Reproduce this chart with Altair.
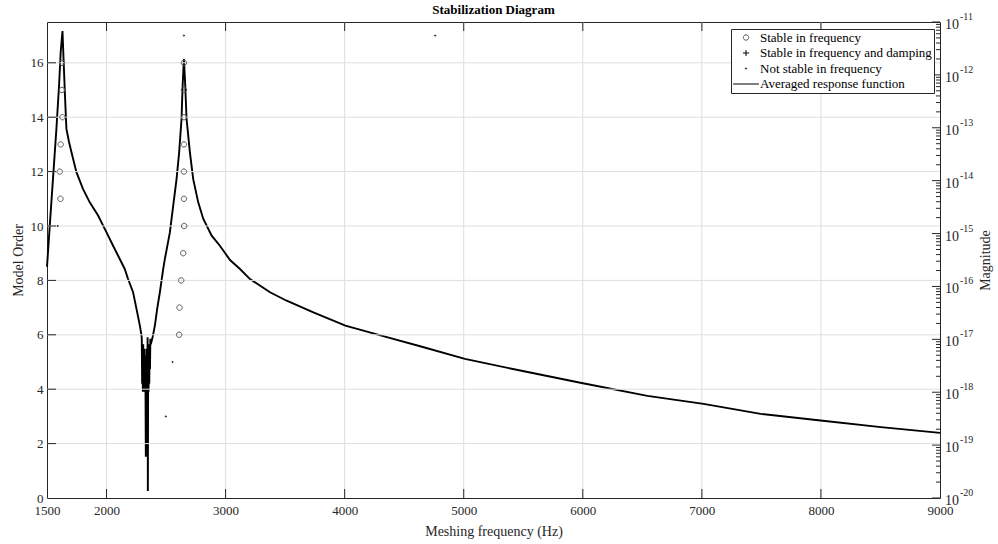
import altair as alt
import pandas as pd

# ---------------- data ----------------
freq_hz = [1500, 1523, 1550, 1579, 1601, 1615, 1630, 1640, 1651, 1663, 1685, 1705, 1747,
           1803, 1859, 1929, 2000, 2055, 2111, 2153, 2181, 2223, 2252, 2280, 2294,
           2296, 2299, 2302, 2305, 2308, 2311, 2314, 2317, 2320, 2323, 2326, 2330, 2333,
           2336, 2339, 2342, 2345, 2347, 2350, 2353, 2356, 2359, 2362, 2365, 2368, 2372,
           2389, 2406, 2425, 2448, 2476, 2490, 2532, 2560, 2588, 2610, 2630, 2639, 2650,
           2661, 2672, 2700, 2728, 2770, 2812, 2883, 2952, 3037, 3121, 3205, 3373, 3513,
           3737, 4006, 4354, 4634, 5010, 5475, 5980, 6543, 7014, 7494, 8016, 8504, 9000]
magnitude = [2.34e-16, 1.38e-15, 1.07e-14, 9.55e-14, 6.17e-13, 2.69e-12, 6.76e-12, 1.74e-12,
             4.07e-13, 9.55e-14, 5.37e-14, 3.47e-14, 1.45e-14, 6.92e-15, 3.89e-15, 2.19e-15,
             1.05e-15, 5.89e-16, 3.31e-16, 2.14e-16, 1.38e-16, 7.76e-17, 3.72e-17, 1.82e-17,
             1.17e-17,
             1.02e-17, 1.45e-18, 8.1e-18, 1.02e-18, 8.1e-18, 1.02e-18, 6.6e-18, 1.02e-18,
             6.6e-18, 1.02e-18, 5.0e-18, 6.03e-20, 5.0e-18, 1.02e-18, 6.6e-18, 1.02e-18,
             1.1e-17, 1.35e-20, 6.6e-18, 1.02e-18, 8.1e-18, 1.45e-18, 8.1e-18, 2.75e-18,
             1.02e-17, 8.1e-18,
             1.15e-17, 1.82e-17, 3.72e-17, 7.76e-17, 2.14e-16, 3.31e-16, 1.05e-15, 3.39e-15,
             1.07e-14, 3.47e-14, 1.48e-13, 6.31e-13, 2.0e-12, 6.31e-13, 1.48e-13, 3.47e-14,
             1.07e-14, 3.89e-15, 1.91e-15, 9.12e-16, 5.89e-16, 3.16e-16, 2.14e-16, 1.38e-16,
             7.76e-17, 5.37e-17, 3.24e-17, 1.82e-17, 1.10e-17, 7.41e-18, 4.27e-18, 2.57e-18,
             1.51e-18, 8.51e-19, 6.03e-19, 3.89e-19, 2.88e-19, 2.19e-19, 1.70e-19]

stable_freq_hz = [1626, 1626, 1630, 1615, 1607, 1613,
                  2650, 2650, 2650, 2650, 2650, 2650, 2652, 2644, 2627, 2613, 2610]
stable_order = [16, 15, 14, 13, 12, 11,
                16, 15, 14, 13, 12, 11, 10, 9, 8, 7, 6]

unstable_freq_hz = [2650, 4760, 2555, 2498, 1590]
unstable_order = [17, 17, 5, 3, 10]

x_tick_values = [1500, 2000, 3000, 4000, 5000, 6000, 7000, 8000, 9000]
x_inner_ticks = [2000, 3000, 4000, 5000, 6000, 7000, 8000]
y_tick_values = [0, 2, 4, 6, 8, 10, 12, 14, 16]
y_inner_ticks = [2, 4, 6, 8, 10, 12, 14, 16]
decades = [-20, -19, -18, -17, -16, -15, -14, -13, -12, -11]

legend_labels = ["Stable in frequency", "Stable in frequency and damping",
                 "Not stable in frequency", "Averaged response function"]

# ---------------- styling ----------------
W, H = 893, 476
FONT = "Liberation Serif"
AX = "#262626"
GRID = "#dedede"

SHAPES = [
    "M-0.9,0A0.9,0.9,0,1,0,0.9,0A0.9,0.9,0,1,0,-0.9,0Z",   # open circle
    "M-1,0H1M0,-1V1",                                     # plus
    "M-0.2,0A0.2,0.2,0,1,0,0.2,0A0.2,0.2,0,1,0,-0.2,0Z",  # dot
    "M-4.3,0H4.3",                                        # line
]
COLORS = ["#5a5a5a", "#000000", "#000000", "#000000"]

xscale = alt.Scale(domain=[1500, 9000], nice=False, zero=False)
lscale = alt.Scale(domain=[0, 17.5], nice=False, zero=False)
rscale = alt.Scale(type="log", domain=[1e-20, 1e-11], nice=False)

XAX = alt.Axis(
    values=x_tick_values, ticks=False, domain=False, grid=False, format="d",
    labelFlush=False, labelOverlap=False, labelFont=FONT, labelFontSize=13,
    labelColor=AX, labelPadding=6,
    title="Meshing frequency (Hz)", titleFont=FONT, titleFontSize=14,
    titleFontWeight="normal", titleColor=AX, titleX=W / 2, titleY=33,
    titleBaseline="middle", titleAlign="center")
LAX = alt.Axis(
    values=y_tick_values, ticks=False, domain=False, grid=False,
    labelFont=FONT, labelFontSize=13, labelColor=AX, labelPadding=4,
    title="Model Order", titleFont=FONT, titleFontSize=14, titleFontWeight="normal",
    titleColor=AX, titleX=-29, titleY=H / 2, titleAngle=270,
    titleBaseline="middle", titleAlign="center")
RAX = alt.Axis(
    orient="right", labels=False, ticks=False, domain=False, grid=False,
    title="Magnitude", titleFont=FONT, titleFontSize=14, titleFontWeight="normal",
    titleColor=AX, titleX=45, titleY=H / 2, titleAngle=270,
    titleBaseline="middle", titleAlign="center")

curve_df = pd.DataFrame({"freq": freq_hz, "mag": magnitude})
pts_df = pd.DataFrame({
    "freq": stable_freq_hz + unstable_freq_hz,
    "order": stable_order + unstable_order,
    "kind": [legend_labels[0]] * len(stable_freq_hz) + [legend_labels[2]] * len(unstable_freq_hz),
})
xt_df = pd.DataFrame({"freq": x_inner_ticks})
yt_df = pd.DataFrame({"order": y_inner_ticks})
dec_df = pd.DataFrame({"mag": [10.0 ** e for e in decades], "exp": [str(e) for e in decades]})
minor_df = pd.DataFrame({"mag": [k * 10.0 ** e for e in decades[:-1] for k in range(2, 10)]})

X = alt.X("freq:Q", scale=xscale, axis=XAX)
YL = alt.Y("order:Q", scale=lscale, axis=LAX)
YR = alt.Y("mag:Q", scale=rscale, axis=RAX)

# ---------------- layers ----------------
vgrid = alt.Chart(xt_df).mark_rule(color=GRID, strokeWidth=1).encode(
    x=X, y=alt.value(0), y2=alt.value(H))
hgrid = alt.Chart(yt_df).mark_rule(color=GRID, strokeWidth=1).encode(
    y=YL, x=alt.value(0), x2=alt.value(W))

curve = alt.Chart(curve_df).mark_line(color="black", strokeWidth=1.9).encode(x=X, y=YR)
r_major = alt.Chart(dec_df).mark_rule(color=AX, strokeWidth=1).encode(
    y=YR, x=alt.value(W - 8), x2=alt.value(W))
r_minor = alt.Chart(minor_df).mark_rule(color=AX, strokeWidth=1).encode(
    y=YR, x=alt.value(W - 4), x2=alt.value(W))
r_ten = alt.Chart(dec_df).mark_text(text="10", align="left", baseline="middle", dy=3,
                                    font=FONT, fontSize=14, color=AX).encode(
    y=YR, x=alt.value(W + 5))
r_exp = alt.Chart(dec_df).mark_text(align="left", baseline="middle", dy=-5,
                                    font=FONT, fontSize=10, color=AX).encode(
    y=YR, x=alt.value(W + 20), text="exp:N")
right_group = alt.layer(curve, r_major, r_minor, r_ten, r_exp)

leg = alt.Legend(
    orient="none", legendX=684, legendY=7, title=None,
    labelFont=FONT, labelFontSize=13, labelColor="black", labelLimit=400,
    symbolSize=36, symbolStrokeWidth=1, symbolOffset=6.5, labelOffset=7.5,
    padding=2, rowPadding=1.5, strokeColor=AX, fillColor="white",
)
pts = alt.Chart(pts_df).mark_point(filled=False, size=36, strokeWidth=1, opacity=1).encode(
    x=X, y=YL,
    shape=alt.Shape("kind:N", scale=alt.Scale(domain=legend_labels, range=SHAPES), legend=leg),
    color=alt.Color("kind:N", scale=alt.Scale(domain=legend_labels, range=COLORS), legend=leg),
)
l_ticks = alt.Chart(yt_df).mark_rule(color=AX, strokeWidth=1).encode(
    y=YL, x=alt.value(0), x2=alt.value(9))
left_group = alt.layer(hgrid, pts, l_ticks)

xt_bottom = alt.Chart(xt_df).mark_rule(color=AX, strokeWidth=1).encode(
    x=X, y=alt.value(H - 9), y2=alt.value(H))
xt_top = alt.Chart(xt_df).mark_rule(color=AX, strokeWidth=1).encode(
    x=X, y=alt.value(0), y2=alt.value(9))

chart = alt.layer(vgrid, right_group, left_group, xt_bottom, xt_top).resolve_scale(
    y="independent"
).properties(
    width=W, height=H,
    title=alt.Title("Stabilization Diagram", font=FONT, fontSize=13, fontWeight="bold",
                    color="black", anchor="middle", offset=6, frame="group", dy=11),
    autosize=alt.AutoSizeParams(type="none"),
    padding={"left": 47, "top": 22, "right": 58, "bottom": 46},
    background="white",
).configure_view(stroke=AX, strokeWidth=1)

chart.save("out.html", embed_options={"renderer": "svg", "actions": False})
